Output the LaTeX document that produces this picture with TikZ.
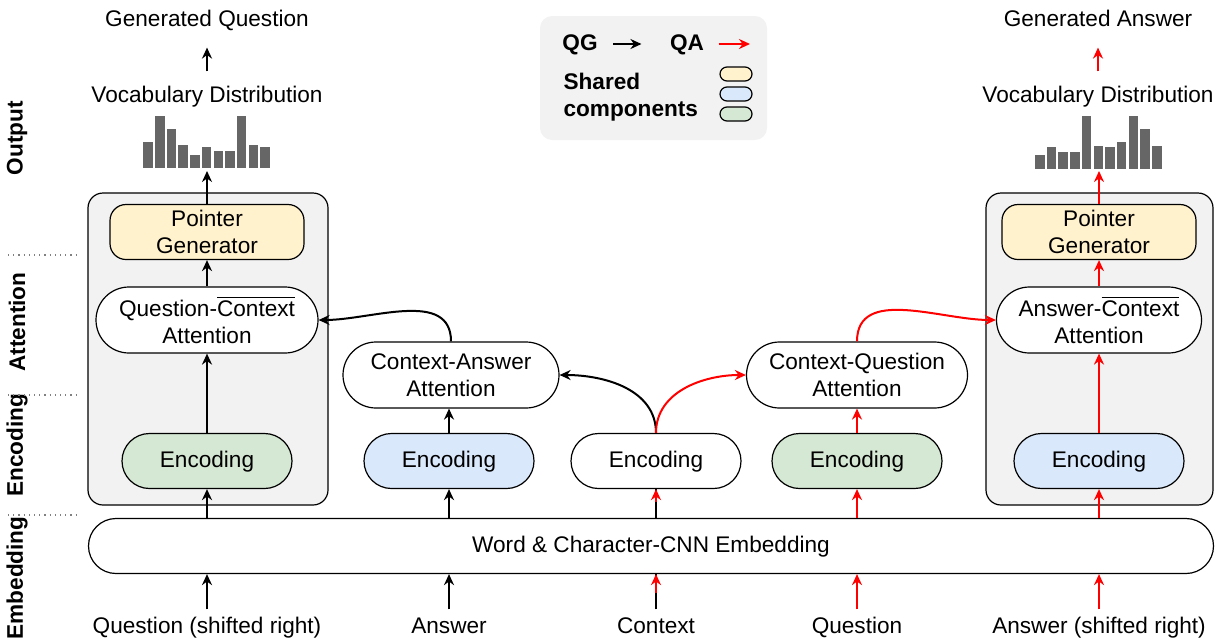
\documentclass[tikz,border=0pt]{standalone}
\usepackage{fontspec}
\setmainfont{Liberation Sans}
\usetikzlibrary{arrows.meta}

\definecolor{shyellow}{HTML}{FFF2CC}
\definecolor{shblue}{HTML}{DAE8FC}
\definecolor{shgreen}{HTML}{D5E8D4}
\definecolor{boxgray}{HTML}{F2F2F2}
\definecolor{bargray}{HTML}{666666}

\begin{document}
\begin{tikzpicture}[x=0.5pt,y=-0.5pt,>={Stealth[length=5.5pt,width=5pt]},line width=0.6pt,
    every node/.style={font=\fontsize{11.3}{13.5}\selectfont},
    block/.style={draw,fill=white,align=center,minimum height=27.5pt,rounded corners=13.75pt,inner sep=0pt},
    att/.style={block,minimum height=33pt,rounded corners=16.5pt},
    ptr/.style={block,fill=shyellow,rounded corners=8pt,minimum width=97pt},
    enc/.style={block,minimum width=85pt,text height=8.5pt,text depth=2.5pt},
    lbl/.style={inner sep=3pt,text height=8.5pt,text depth=2.5pt},
    side/.style={rotate=90,font=\fontsize{11.3}{13.5}\selectfont\bfseries},
    legpill/.style={draw,minimum width=16pt,minimum height=7pt,rounded corners=3.5pt,inner sep=0pt},
    qg/.style={->,line width=1pt},
    qa/.style={->,line width=1pt,red}]
    \useasboundingbox (0,0) rectangle (1225,643);

    % layer labels
    \node[side] (lout) at (17,138) {Output};
    \node[side] (latt) at (17,322) {Attention};
    \node[side] (lenc) at (17,445) {Encoding};
    \node[side] (lemb) at (17,578) {Embedding};
    \foreach \y in {255,395,515}
        \draw[gray,dotted] (8,\y) -- (78,\y);

    % legend
    \fill[boxgray,rounded corners=6pt] (540,16) rectangle (767,140);
    \node[lbl,font=\fontsize{11.3}{13.5}\selectfont\bfseries] (qg) at (580,44) {QG};
    \node[lbl,font=\fontsize{11.3}{13.5}\selectfont\bfseries] (qa) at (687,44) {QA};
    \coordinate (qaend) at (750,44);
    \draw[qg,shorten <=4.5pt,shorten >=11pt] (qg) -- (qa);
    \draw[qa,shorten <=4pt] (qa) -- (qaend);
    \node[anchor=west,align=left,inner sep=0pt,font=\fontsize{11.3}{13.5}\selectfont\bfseries] (shared) at (563,97) {Shared\\components};
    \node[legpill,fill=shyellow] (ly) at (736,74) {};
    \node[legpill,fill=shblue] (lb) at (736,94) {};
    \node[legpill,fill=shgreen] (lg) at (736,114) {};

    % shared boxes
    \draw[fill=boxgray,rounded corners=7.5pt] (88,193) rectangle (328,505);
    \draw[fill=boxgray,rounded corners=7.5pt] (986,193) rectangle (1213,505);

    \node[ptr] (pgq) at (207,232) {Pointer\\Generator};
    \node[ptr] (pga) at (1099,232) {Pointer\\Generator};
    \node[att,minimum width=111pt] (qca) at (207,320) {Question-$\overline{\mbox{Context}}$\\Attention};
    \node[att,minimum width=102.5pt] (aca) at (1099,320) {Answer-$\overline{\mbox{Context}}$\\Attention};
    \node[att,minimum width=108pt] (caa) at (451,375) {Context-Answer\\Attention};
    \node[att,minimum width=110.5pt] (cqa) at (857,375) {Context-Question\\Attention};

    \node[enc,fill=shgreen] (encq) at (207,461) {Encoding};
    \node[enc,fill=shblue] (enca) at (449,461) {Encoding};
    \node[enc] (encc) at (656,461) {Encoding};
    \node[enc,fill=shgreen] (encqq) at (857,461) {Encoding};
    \node[enc,fill=shblue] (encaa) at (1099,461) {Encoding};

    \node[block,minimum width=562.5pt,text height=8.5pt,text depth=2.5pt] (emb) at (651,546) {Word \& Character-CNN Embedding};

    \node[lbl] (inq) at (207,627) {Question (shifted right)};
    \node[lbl] (ina) at (449,627) {Answer};
    \node[lbl] (inc) at (656,627) {Context};
    \node[lbl] (inqq) at (857,627) {Question};
    \node[lbl] (inaa) at (1099,627) {Answer (shifted right)};

    % output
    \foreach \h [count=\i from 0] in {26.6,52.6,39.3,23,13.6,21,17.3,17.3,52.6,23,21}
        \fill[bargray] ({143.3+11.7*\i},168.3) rectangle ++(9.5,-\h);
    \foreach \h [count=\i from 0] in {14.3,22,17.6,17.6,53.6,23.6,22,27.3,53.6,40.3,23.6}
        \fill[bargray] ({1035+11.7*\i},169.3) rectangle ++(9.5,-\h);
    \coordinate (hq) at (207,171);
    \coordinate (ha) at (1099,171);
    \node[lbl] (vq) at (207,96) {Vocabulary Distribution};
    \node[lbl] (gq) at (207,20) {Generated Question};
    \node[lbl] (va) at (1098,96) {Vocabulary Distribution};
    \node[lbl] (ga) at (1098,20) {Generated Answer};

    % QG
    \draw[qg] (inq) -- (inq |- emb.south);
    \draw[qg] (ina) -- (ina |- emb.south);
    \draw[qg] (encq |- emb.north) -- (encq);
    \draw[qg] (enca |- emb.north) -- (enca);
    \draw[qg] (encq) -- (qca);
    \draw[qg] (enca) -- (enca |- caa.south);
    \draw[qg] (encc.north) to[out=90,in=0] (caa.east);
    \draw[qg] (caa.north) to[out=90,in=0] (qca.east);
    \draw[qg] (qca) -- (pgq);
    \draw[qg] (pgq) -- (hq);
    \draw[qg,shorten <=3.5pt,shorten >=5pt] (vq) -- (gq);

    % context, used by both
    \draw[line width=1pt] (inc) -- (inc |- emb.south);
    \draw[qa,shorten <=8pt] (inc) -- (inc |- emb.south);
    \draw[line width=1pt] (encc |- emb.north) -- (encc);
    \draw[qa,shorten <=8pt] (encc |- emb.north) -- (encc);

    % QA
    \draw[qa] (inqq) -- (inqq |- emb.south);
    \draw[qa] (inaa) -- (inaa |- emb.south);
    \draw[qa] (encqq |- emb.north) -- (encqq);
    \draw[qa] (encaa |- emb.north) -- (encaa);
    \draw[qa] (encqq) -- (cqa);
    \draw[qa] (encaa) -- (aca);
    \draw[qa] (encc.north) to[out=90,in=180] (cqa.west);
    \draw[qa] (cqa.north) to[out=90,in=180] (aca.west);
    \draw[qa] (aca) -- (pga);
    \draw[qa] (pga) -- (ha);
    \draw[qa,shorten <=3.5pt,shorten >=5pt] (va) -- (ga);
\end{tikzpicture}
\end{document}
